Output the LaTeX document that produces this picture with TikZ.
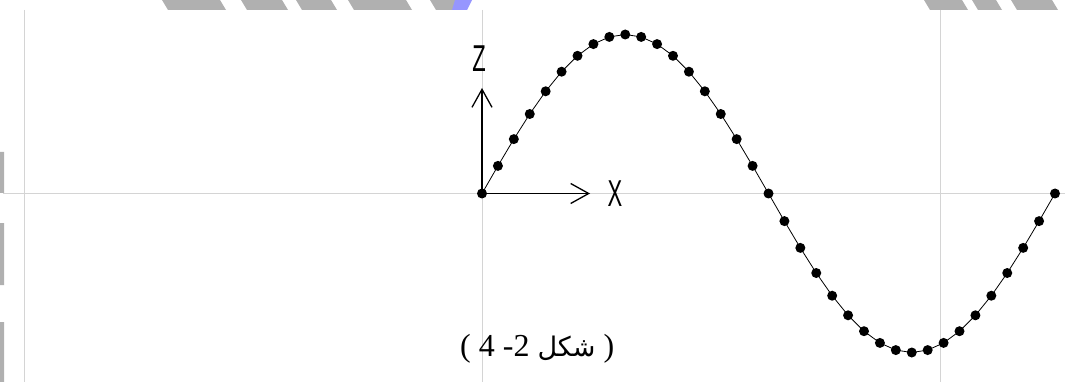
\documentclass[tikz,border=0pt]{standalone}
\usepackage{fontspec}
\usepackage{graphicx}
\setmainfont{Liberation Serif}
\newfontfamily\arabicfont[Script=Arabic]{DejaVu Sans}
\newfontfamily\axisfont{Liberation Sans}
\TeXXeTstate=1
\usetikzlibrary{arrows.meta}
\definecolor{gridgray}{RGB}{212,212,212}
\definecolor{scangray}{RGB}{176,176,176}
\definecolor{scanblue}{RGB}{150,150,255}

\begin{document}
\begin{tikzpicture}[x=1pt, y=-1pt,
    gridline/.style={gridgray, line width=1pt},
    axisarrow/.style={black, line width=1.3pt, -{Straight Barb[length=18pt,width=20pt]}},
    axislabel/.style={font=\axisfont\fontsize{22}{22}\selectfont, inner sep=0pt}]
    \useasboundingbox (0,0) rectangle (1065,382);
    \fill[white] (0,0) rectangle (1065,382);
    \foreach \a/\b in {162/220,241/282,296/331,348/406,430/455,924/962,972/996,1011/1052}
      \fill[scangray] (\a,0) -- (\b,0) -- ({\b+6},10) -- ({\a+6},10) -- cycle;
    \fill[scanblue] (455,0) -- (472,0) -- (467,10) -- (452,10) -- cycle;
    \fill[scangray] (0,152) rectangle (4,193) (0,223) rectangle (4,285) (0,322) rectangle (4,382);
    \draw[gridline] (3,193.5) -- (1065,193.5);
    \foreach \gx in {24,482,940}
      \draw[gridline] (\gx,10) -- (\gx,382);
    \coordinate (org) at (482,193.5);
    \coordinate (ztop) at (482,88);
    \coordinate (xend) at (590,193.5);
    \draw[axisarrow] (org) -- (ztop);
    \draw[axisarrow] (org) -- (xend);
    \node[axislabel] (zlab) at (479,58.5) {\scalebox{1}[1.7]{Z}};
    \node[axislabel] (xlab) at (615,193.5) {\scalebox{1}[1.7]{X}};
    \draw[line width=0.8pt] plot[domain=0:360, samples=37] ({482+1.591667*\x},{193.5-159*sin(\x)});
    \foreach \t in {0,10,...,360}
      \fill ({482+1.591667*\t},{193.5-159*sin(\t)}) circle (5pt);
    \node[anchor=base west, inner sep=0pt, font=\fontsize{32}{38}\selectfont] (cap) at (460,356)
      {( 4 -2 {\arabicfont\fontsize{27}{32}\selectfont\beginR شكل\endR} )};
  \end{tikzpicture}
\end{document}
